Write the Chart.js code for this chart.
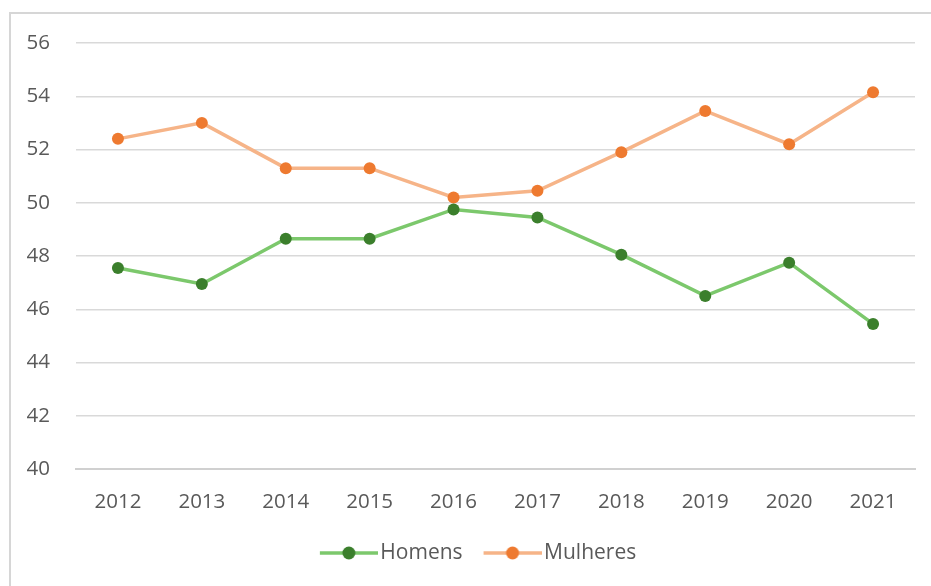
<!DOCTYPE html>
<html>
<head>
<meta charset="utf-8">
<script src="https://cdn.jsdelivr.net/npm/chart.js@4.4.1/dist/chart.umd.min.js"></script>
<style>
  html, body { margin: 0; padding: 0; background: #ffffff; }
  #wrap { position: relative; width: 931px; height: 586px; overflow: hidden; }
  #frame { position: absolute; left: 9px; top: 12px; width: 960px; height: 620px;
           border-top: 2px solid #d6d6d6; border-left: 2px solid #d6d6d6; box-sizing: border-box; }
  canvas { position: absolute; left: 0; top: 0; }
</style>
</head>
<body>
<div id="wrap">
  <div id="frame"></div>
  <canvas id="c" width="931" height="586"></canvas>
</div>
<script>
const categories = ['2012','2013','2014','2015','2016','2017','2018','2019','2020','2021'];
const homens   = [47.55, 46.95, 48.65, 48.65, 49.75, 49.45, 48.05, 46.5, 47.75, 45.45];
const mulheres = [52.4, 53.0, 51.3, 51.3, 50.2, 50.45, 51.9, 53.45, 52.2, 54.15];
const seriesNames = ['Homens', 'Mulheres'];

const FONT = "'Open Sans', 'Lato', sans-serif";
const TXT = '#595959';

function legendIcon(lineColor, dotColor) {
  const cv = document.createElement('canvas');
  cv.width = 80; cv.height = 16;
  const g = cv.getContext('2d');
  g.strokeStyle = lineColor; g.lineWidth = 3.5;
  g.beginPath(); g.moveTo(22, 8); g.lineTo(80, 8); g.stroke();
  g.fillStyle = dotColor;
  g.beginPath(); g.arc(51, 8, 6.5, 0, Math.PI * 2); g.fill();
  return cv;
}
const icons = [legendIcon('#7cc86c', '#3b7f2c'), legendIcon('#f6b488', '#ee7a30')];

new Chart(document.getElementById('c'), {
  type: 'line',
  data: {
    labels: categories,
    datasets: [
      { label: seriesNames[0], data: homens, borderColor: '#7cc86c', backgroundColor: '#3b7f2c',
        pointBackgroundColor: '#3b7f2c', pointBorderColor: '#3b7f2c', pointRadius: 6, pointBorderWidth: 0,
        borderWidth: 3.5, tension: 0 },
      { label: seriesNames[1], data: mulheres, borderColor: '#f6b488', backgroundColor: '#ee7a30',
        pointBackgroundColor: '#ee7a30', pointBorderColor: '#ee7a30', pointRadius: 6, pointBorderWidth: 0,
        borderWidth: 3.5, tension: 0 }
    ]
  },
  options: {
    responsive: false,
    animation: false,
    devicePixelRatio: 1,
    layout: { padding: { left: 27, right: 16, top: 43, bottom: 12.5 } },
    plugins: {
      tooltip: { enabled: false },
      legend: {
        position: 'bottom',
        labels: {
          usePointStyle: true,
          pointStyleWidth: 64,
          padding: 7,
          color: TXT,
          font: { family: FONT, size: 21, lineHeight: 1 },
          generateLabels: (chart) => chart.data.datasets.map((ds, i) => ({
            text: ds.label, pointStyle: icons[i], fontColor: TXT,
            lineWidth: 0, strokeStyle: 'rgba(0,0,0,0)', fillStyle: 'rgba(0,0,0,0)',
            hidden: false, datasetIndex: i
          }))
        }
      }
    },
    scales: {
      x: {
        offset: true,
        grid: { display: false, drawTicks: false, offset: true },
        border: { display: true, color: '#d0d0d0', width: 2 },
        ticks: { color: TXT, font: { family: FONT, size: 20.5, lineHeight: 1 }, padding: 23 }
      },
      y: {
        min: 40, max: 56,
        afterFit: (s) => { s.width = 49; },
        grid: { color: '#d9d9d9', lineWidth: 1.5, drawTicks: false },
        border: { display: false },
        ticks: { stepSize: 2, color: TXT, font: { family: FONT, size: 20.5 }, padding: 26 }
      }
    }
  }
});
</script>
</body>
</html>
